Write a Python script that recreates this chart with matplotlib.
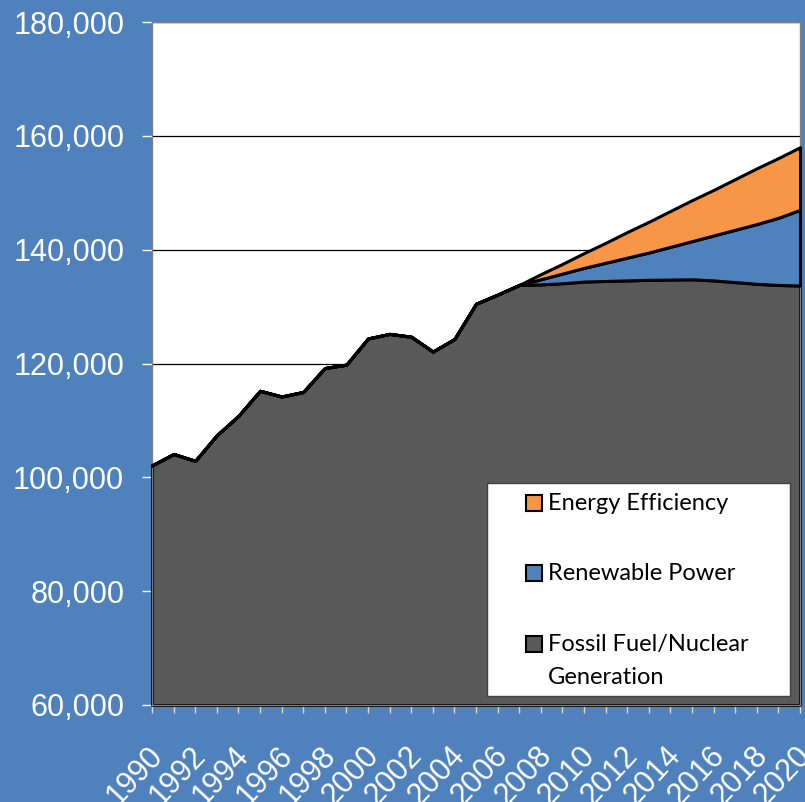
import numpy as np
import matplotlib.pyplot as plt
from matplotlib.patches import Rectangle
from matplotlib.transforms import ScaledTranslation

# Data
years = np.arange(1990, 2021)
fossil = [102100, 104100, 102900, 107400, 110800, 115200, 114200, 115000,
          119200, 119800, 124400, 125200, 124700, 122100, 124300, 130500,
          132100, 133800, 133900, 134100, 134400, 134500, 134600, 134700,
          134750, 134800, 134600, 134300, 134000, 133800, 133700]
renewable = [0] * 17 + [0, 900, 1700, 2400, 3200, 4000, 4800, 5750, 6700,
                        7900, 9200, 10500, 11800, 13300]
efficiency = [0] * 17 + [0, 900, 1700, 2600, 3500, 4500, 5400, 6300, 7200,
                         8000, 8900, 9800, 10500, 11000]
series_names = ['Energy Efficiency', 'Renewable Power', 'Fossil Fuel/Nuclear\nGeneration']

ymin, ymax = 60000, 180000
bg = '#4F81BD'
c_fossil = '#595959'
c_renew = '#4F81BD'
c_eff = '#F79646'

fossil = np.array(fossil)
renewable = np.array(renewable)
efficiency = np.array(efficiency)
top_renew = fossil + renewable
top_eff = top_renew + efficiency

fig = plt.figure(figsize=(8.05, 8.02), dpi=100, facecolor=bg)
ax = fig.add_axes([152 / 805, 97 / 802, 648 / 805, 683 / 802])
ax.set_facecolor('white')

lw = 2.2
ax.fill_between(years, ymin, fossil, facecolor=c_fossil, edgecolor='black',
                linewidth=lw, clip_on=False, zorder=2)
ax.fill_between(years, fossil, top_renew, facecolor=c_renew, edgecolor='black',
                linewidth=lw, clip_on=False, zorder=3)
ax.fill_between(years, top_renew, top_eff, facecolor=c_eff, edgecolor='black',
                linewidth=lw, clip_on=False, zorder=4)

ax.set_xlim(1990, 2020)
ax.set_ylim(ymin, ymax)
ax.set_yticks(np.arange(ymin, ymax + 1, 20000))
ax.set_yticklabels([f'{v:,}' for v in range(ymin, ymax + 1, 20000)])
ax.set_xticks(years[::2])
ax.set_xticks(years, minor=True)
ax.set_xticklabels([str(y) for y in years[::2]])

ax.yaxis.grid(True, color='black', linewidth=0.9)
ax.set_axisbelow(True)

for s in ax.spines.values():
    s.set_color('#808080')
    s.set_linewidth(1)

ax.tick_params(axis='y', colors='white', labelcolor='white', length=7, width=1,
               pad=13, labelsize=22)
ax.tick_params(axis='x', which='both', colors='#D9D9D9', length=6, width=1)
ax.tick_params(axis='x', labelcolor='white', labelsize=22, pad=16)
for lab in ax.get_yticklabels() + ax.get_xticklabels():
    lab.set_fontfamily('Liberation Sans')
for lab in ax.get_xticklabels():
    lab.set_rotation(47)
    lab.set_ha('right')
    lab.set_va('top')
    lab.set_rotation_mode('anchor')
    lab.set_transform(lab.get_transform() + ScaledTranslation(-0.05, -0.05, fig.dpi_scale_trans))

# Legend box drawn by hand
fig.add_artist(Rectangle((487 / 805, 106 / 802), 303 / 805, 213 / 802,
                         transform=fig.transFigure, facecolor='white',
                         edgecolor='#404040', linewidth=1, zorder=10))
colors = [c_eff, c_renew, c_fossil]
ys = [1 - 503 / 802, 1 - 573 / 802, 1 - 644 / 802]
for name, col, yy in zip(series_names, colors, ys):
    fig.add_artist(Rectangle((526 / 805, yy - 8 / 802), 16 / 805, 16 / 802,
                             transform=fig.transFigure, facecolor=col,
                             edgecolor='black', linewidth=1.5, zorder=11))
    for i, line in enumerate(name.split('\n')):
        fig.text(548 / 805, yy - i * 33 / 802, line, fontsize=17, family='Lato',
                 va='center', ha='left', zorder=12)

fig.savefig('out.png', dpi=100, facecolor=bg)
